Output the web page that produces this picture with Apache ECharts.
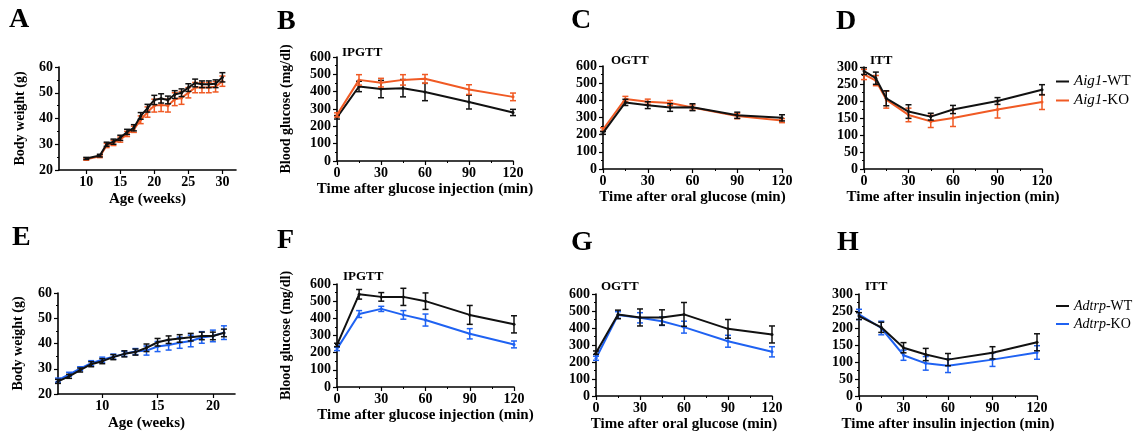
<!DOCTYPE html>
<html>
<head>
<meta charset="utf-8">
<script src="https://cdn.jsdelivr.net/npm/echarts@6/dist/echarts.min.js"></script>
<style>
  html, body { margin: 0; padding: 0; background: #fff; }
  #main { width: 1137px; height: 438px; }
</style>
</head>
<body>
<div id="main"></div>
<script>
// ---- data ----
// A: body weight, Aig1
var ageA = [10, 12, 13, 14, 15, 16, 17, 18, 19, 20, 21, 22, 23, 24, 25, 26, 27, 28, 29, 30];
var bwA_WT = [24.5, 25.6, 30, 31, 32.5, 34.8, 36.4, 41, 44, 47.2, 47.8, 47.2, 49.3, 50, 52, 53.8, 53.3, 53.3, 53.5, 56];
var bwA_WTsd = [0.4, 0.5, 0.8, 1, 1, 1, 1.2, 1.3, 1.5, 1.8, 1.8, 1.5, 1.5, 1.5, 1.5, 1.5, 1.3, 1.3, 1.5, 1.8];
var bwA_KO = [24.2, 25.3, 29.5, 30.5, 31.8, 34, 35.8, 39.5, 42.5, 45, 45.2, 45, 47.5, 48, 50, 52, 52, 52, 52.3, 54.5];
var bwA_KOsd = [0.4, 0.5, 0.8, 1, 1, 1, 1.2, 1.5, 2, 2.5, 2.5, 2.5, 2.5, 2.5, 2, 2, 2, 2, 2, 2];

// time points (min)
var tMin = [0, 15, 30, 45, 60, 90, 120];
var tD = [0, 8, 15, 30, 45, 60, 90, 120];

// B: IPGTT Aig1
var ipB_WT = [252, 430, 415, 420, 398, 340, 280];
var ipB_WTsd = [10, 30, 50, 50, 50, 40, 18];
var ipB_KO = [266, 468, 452, 468, 474, 412, 370];
var ipB_KOsd = [12, 30, 25, 30, 25, 28, 22];

// C: OGTT Aig1
var ogC_WT = [210, 388, 372, 358, 360, 313, 298];
var ogC_WTsd = [8, 18, 20, 22, 20, 18, 18];
var ogC_KO = [230, 408, 392, 384, 358, 308, 282];
var ogC_KOsd = [10, 15, 15, 15, 15, 15, 12];

// D: ITT Aig1
var itD_WT = [288, 267, 208, 169, 154, 175, 200, 233];
var itD_WTsd = [10, 18, 22, 20, 10, 12, 10, 15];
var itD_KO = [278, 260, 204, 159, 140, 150, 175, 197];
var itD_KOsd = [15, 15, 25, 20, 18, 25, 25, 22];

// E: body weight, Adtrp
var ageE = [6, 7, 8, 9, 10, 11, 12, 13, 14, 15, 16, 17, 18, 19, 20, 21];
var bwE_WT = [25, 27, 29.5, 31.8, 33, 34.6, 35.9, 36.6, 38.3, 40.5, 41.5, 42, 42.5, 43, 43, 44.2];
var bwE_WTsd = [0.8, 0.8, 0.8, 1, 1, 1, 1.2, 1.2, 1.5, 1.5, 1.5, 1.5, 1.5, 1.5, 1.5, 1.5];
var bwE_KO = [25.5, 27.8, 30, 32.2, 33.6, 34.8, 35.9, 36.8, 37.2, 38.8, 39.4, 40.3, 41, 42.4, 43, 44.3];
var bwE_KOsd = [0.8, 0.8, 0.8, 1, 1, 1, 1, 1.2, 1.8, 2, 2, 2.2, 2.3, 2.3, 2.3, 2.7];

// F: IPGTT Adtrp
var ipF_WT = [245, 540, 525, 525, 500, 420, 365];
var ipF_WTsd = [10, 28, 25, 50, 48, 55, 50];
var ipF_KO = [222, 425, 455, 420, 390, 310, 248];
var ipF_KOsd = [10, 20, 15, 25, 35, 30, 20];

// G: OGTT Adtrp
var ogG_WT = [255, 480, 462, 462, 480, 395, 362];
var ogG_WTsd = [10, 25, 50, 45, 70, 55, 50];
var ogG_KO = [222, 476, 460, 440, 405, 322, 260];
var ogG_KOsd = [12, 20, 30, 25, 35, 35, 30];

// H: ITT Adtrp
var itH_WT = [235, 202, 142, 122, 107, 127, 158];
var itH_WTsd = [10, 15, 15, 18, 18, 18, 25];
var itH_KO = [240, 200, 120, 96, 89, 107, 128];
var itH_KOsd = [15, 20, 15, 20, 20, 20, 20];

var weekTicks = [10, 15, 20, 25, 30];
var weekTicksE = [10, 15, 20];

// ---- styling ----
var FONT = 'Liberation Serif';
var BLACK = '#111111';
var RED = '#f05a24';
var BLUE = '#1f62f2';

var grids = [], xAxes = [], yAxes = [], series = [];

function addPanel(box, xOpt, yOpt) {
  grids.push({ left: box[0], top: box[1], width: box[2], height: box[3], containLabel: false });
  var i = grids.length - 1;
  var axisCommon = {
    axisLine: { lineStyle: { color: '#000', width: 1.6 } },
    axisTick: { length: 4, lineStyle: { color: '#000', width: 1.2 } },
    splitLine: { show: false },
    axisLabel: { color: '#000', fontFamily: FONT, fontWeight: 'bold', fontSize: 14 },
    nameTextStyle: { color: '#000', fontFamily: FONT, fontWeight: 'bold' }
  };
  xAxes.push(echarts.util.merge(echarts.util.clone(axisCommon), Object.assign({
    type: 'value', gridIndex: i, nameLocation: 'middle'
  }, xOpt), true));
  yAxes.push(echarts.util.merge(echarts.util.clone(axisCommon), Object.assign({
    type: 'value', gridIndex: i, nameLocation: 'middle'
  }, yOpt), true));
  return i;
}

function timeX(name) {
  return {
    min: 0, max: 120, interval: 30, name: name, nameGap: 21,
    nameTextStyle: { fontSize: 15 },
    axisLabel: { margin: 5 },
    minorTick: { show: true, splitNumber: 2, length: 2, lineStyle: { color: '#000' } }
  };
}

function glucY(name, gap) {
  return {
    min: 0, max: 600, interval: 100, name: name, nameGap: gap,
    nameTextStyle: { fontSize: 14 },
    axisLabel: { margin: 6 },
    minorTick: { show: true, splitNumber: 2, length: 2, lineStyle: { color: '#000' } }
  };
}

function ittY() {
  return {
    min: 0, max: 300, interval: 50,
    axisLabel: { margin: 6 },
    minorTick: { show: true, splitNumber: 2, length: 2, lineStyle: { color: '#000' } }
  };
}

function addGroup(gi, name, xs, mean, sd, color, z) {
  series.push({
    type: 'line', name: name, xAxisIndex: gi, yAxisIndex: gi,
    data: xs.map(function (x, k) { return [x, mean[k]]; }),
    symbol: 'circle', symbolSize: 3, showSymbol: true,
    itemStyle: { color: color },
    lineStyle: { color: color, width: 2 },
    z: z, silent: true
  });
  series.push({
    type: 'custom', name: name, xAxisIndex: gi, yAxisIndex: gi,
    data: xs.map(function (x, k) { return [x, mean[k] - sd[k], mean[k] + sd[k]]; }),
    encode: { x: 0, y: [1, 2] },
    z: z, silent: true,
    renderItem: function (params, api) {
      var lo = api.coord([api.value(0), api.value(1)]);
      var hi = api.coord([api.value(0), api.value(2)]);
      var cw = 3;
      var st = { stroke: color, lineWidth: 1.5 };
      return {
        type: 'group',
        children: [
          { type: 'line', shape: { x1: lo[0], y1: lo[1], x2: hi[0], y2: hi[1] }, style: st },
          { type: 'line', shape: { x1: lo[0] - cw, y1: lo[1], x2: lo[0] + cw, y2: lo[1] }, style: st },
          { type: 'line', shape: { x1: hi[0] - cw, y1: hi[1], x2: hi[0] + cw, y2: hi[1] }, style: st }
        ]
      };
    }
  });
}

// A
var gA = addPanel([59, 67, 177, 103],
  { min: 6, max: 32, name: 'Age (weeks)', nameGap: 22, nameTextStyle: { fontSize: 15 },
    axisLabel: { margin: 5, customValues: weekTicks }, axisTick: { customValues: weekTicks } },
  { min: 20, max: 60, interval: 10, name: 'Body weight (g)', nameGap: 32, nameTextStyle: { fontSize: 14 },
    axisLabel: { margin: 6 }, minorTick: { show: true, splitNumber: 2, length: 2, lineStyle: { color: '#000' } } });
addGroup(gA, 'Aig1-KO', ageA, bwA_KO, bwA_KOsd, RED, 2);
addGroup(gA, 'Aig1-WT', ageA, bwA_WT, bwA_WTsd, BLACK, 3);

// B
var gB = addPanel([337, 57, 176, 104], timeX('Time after glucose injection (min)'), glucY('Blood glucose (mg/dl)', 44));
addGroup(gB, 'Aig1-WT', tMin, ipB_WT, ipB_WTsd, BLACK, 2);
addGroup(gB, 'Aig1-KO', tMin, ipB_KO, ipB_KOsd, RED, 3);

// C
var gC = addPanel([603, 66, 179, 103], timeX('Time after oral glucose (min)'), glucY('', 40));
addGroup(gC, 'Aig1-KO', tMin, ogC_KO, ogC_KOsd, RED, 2);
addGroup(gC, 'Aig1-WT', tMin, ogC_WT, ogC_WTsd, BLACK, 3);

// D
var gD = addPanel([864, 67, 178, 102], timeX('Time after insulin injection (min)'), ittY());
addGroup(gD, 'Aig1-KO', tD, itD_KO, itD_KOsd, RED, 2);
addGroup(gD, 'Aig1-WT', tD, itD_WT, itD_WTsd, BLACK, 3);

// E
var gE = addPanel([58, 293, 177, 101],
  { min: 6, max: 22, name: 'Age (weeks)', nameGap: 22, nameTextStyle: { fontSize: 15 },
    axisLabel: { margin: 5, customValues: weekTicksE }, axisTick: { customValues: weekTicksE } },
  { min: 20, max: 60, interval: 10, name: 'Body weight (g)', nameGap: 33, nameTextStyle: { fontSize: 14 },
    axisLabel: { margin: 6 }, minorTick: { show: true, splitNumber: 2, length: 2, lineStyle: { color: '#000' } } });
addGroup(gE, 'Adtrp-KO', ageE, bwE_KO, bwE_KOsd, BLUE, 2);
addGroup(gE, 'Adtrp-WT', ageE, bwE_WT, bwE_WTsd, BLACK, 3);

// F
var gF = addPanel([337, 284, 177, 103], timeX('Time after glucose injection (min)'), glucY('Blood glucose (mg/dl)', 44));
addGroup(gF, 'Adtrp-KO', tMin, ipF_KO, ipF_KOsd, BLUE, 2);
addGroup(gF, 'Adtrp-WT', tMin, ipF_WT, ipF_WTsd, BLACK, 3);

// G
var gG = addPanel([596, 294, 176, 102], timeX('Time after oral glucose (min)'), glucY('', 40));
addGroup(gG, 'Adtrp-KO', tMin, ogG_KO, ogG_KOsd, BLUE, 2);
addGroup(gG, 'Adtrp-WT', tMin, ogG_WT, ogG_WTsd, BLACK, 3);

// H
var gH = addPanel([859, 294, 178, 102], timeX('Time after insulin injection (min)'), ittY());
addGroup(gH, 'Adtrp-KO', tMin, itH_KO, itH_KOsd, BLUE, 2);
addGroup(gH, 'Adtrp-WT', tMin, itH_WT, itH_WTsd, BLACK, 3);

// panel letters and test names
function label(txt, x, y, size) {
  return {
    type: 'text', x: x, y: y, silent: true,
    style: { text: txt, font: 'bold ' + size + 'px "' + FONT + '"', fill: '#000', align: 'left', verticalAlign: 'middle' }
  };
}
var graphics = [
  label('A', 9, 20, 28), label('B', 277, 22, 28), label('C', 571, 21, 28), label('D', 836, 22, 28),
  label('E', 12, 238, 28), label('F', 277, 241, 28), label('G', 571, 243, 28), label('H', 837, 243, 28),
  label('IPGTT', 342, 53, 13), label('OGTT', 611, 61, 13), label('ITT', 870, 61, 13),
  label('IPGTT', 343, 277, 13), label('OGTT', 601, 287, 13), label('ITT', 865, 287, 13)
];

function legendFor(names, left, top, size, gap) {
  return {
    data: names, left: left, top: top, orient: 'vertical', selectedMode: false,
    icon: 'rect', itemWidth: 13, itemHeight: 2, itemGap: gap,
    textStyle: {
      color: '#000', fontFamily: FONT, fontSize: size,
      rich: {
        i: { fontFamily: FONT, fontSize: size, fontStyle: 'italic', color: '#000' },
        n: { fontFamily: FONT, fontSize: size, color: '#000' }
      }
    },
    formatter: function (n) {
      var k = n.indexOf('-');
      return '{i|' + n.slice(0, k) + '}{n|' + n.slice(k) + '}';
    }
  };
}

var chart = echarts.init(document.getElementById('main'), null, { renderer: 'canvas' });
chart.setOption({
  animation: false,
  backgroundColor: '#fff',
  grid: grids,
  xAxis: xAxes,
  yAxis: yAxes,
  series: series,
  graphic: graphics,
  legend: [
    legendFor(['Aig1-WT', 'Aig1-KO'], 1051, 69, 15, 4),
    legendFor(['Adtrp-WT', 'Adtrp-KO'], 1051, 294, 14, 4)
  ]
});
</script>
</body>
</html>
